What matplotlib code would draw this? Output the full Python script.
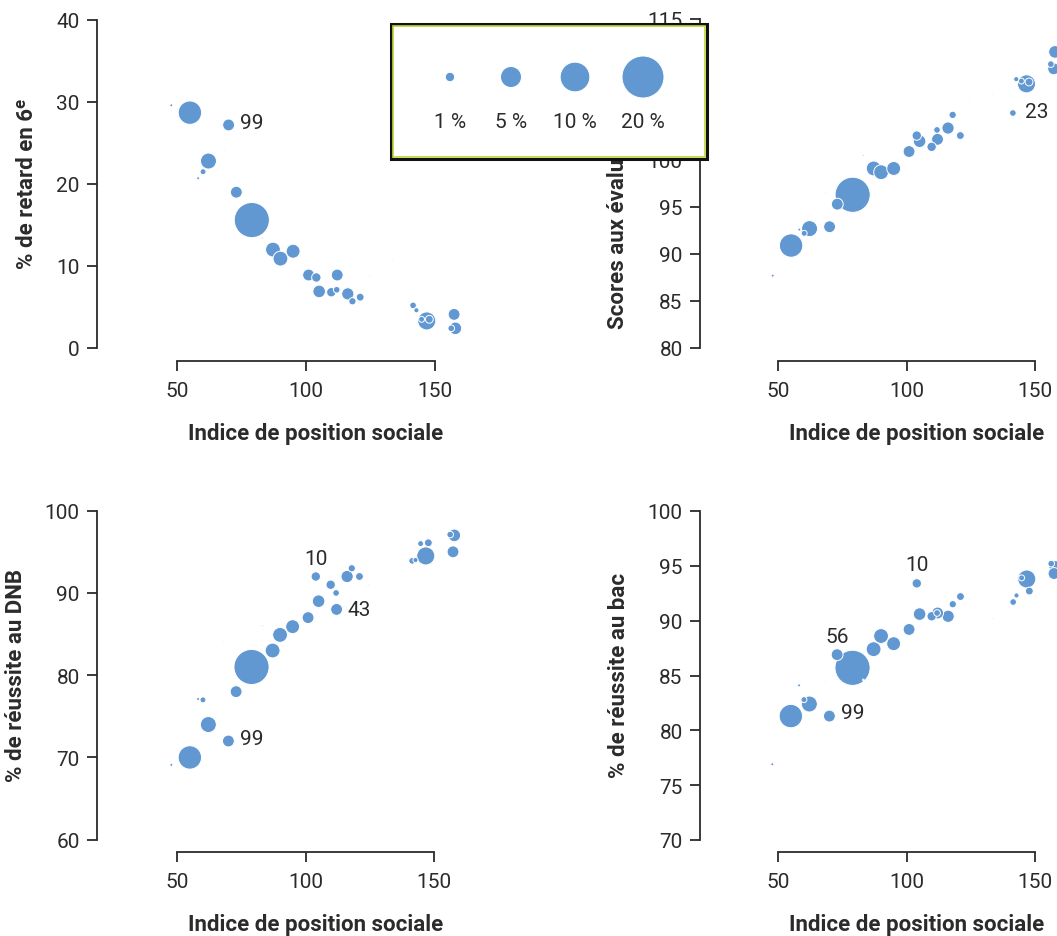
import matplotlib
matplotlib.use("Agg")
import matplotlib.pyplot as plt
from matplotlib.patches import Rectangle

# --- data (one entry per bubble) ----------------------------------------------
ips = [47.8, 55.0, 58.2, 60.1, 62.2, 68.1, 70.0, 73.0, 79.0, 83.2,
       87.2, 90.1, 95.0, 101.0, 104.0, 105.1, 109.8, 111.9, 112.1, 116.2,
       118.0, 121.0, 124.6, 133.8, 141.5, 142.8, 144.8, 146.8, 147.8, 156.3,
       157.4, 157.9]
pct_eleves = [0.1, 6.2, 0.1, 0.4, 2.9, 0.02, 1.6, 1.6, 14.0, 0.03,
              2.5, 2.5, 2.2, 1.6, 1.0, 1.8, 1.0, 0.5, 1.6, 1.7,
              0.6, 0.7, 0.02, 0.02, 0.5, 0.3, 0.4, 3.7, 0.7, 0.5,
              1.6, 1.8]
retard_6e = [29.6, 28.7, 20.7, 21.5, 22.8, 24.0, 27.2, 19.0, 15.6, 13.4,
             12.0, 10.9, 11.8, 8.9, 8.6, 6.9, 6.8, 7.1, 8.9, 6.6,
             5.7, 6.2, 8.8, 10.6, 5.2, 4.6, 3.5, 3.3, 3.5, 2.4,
             4.1, 2.4]
scores_eval = [87.7, 90.9, 92.6, 92.2, 92.7, 96.5, 92.9, 95.3, 96.3, 100.5,
               99.1, 98.7, 99.1, 100.9, 102.6, 102.0, 101.4, 103.2, 102.2, 103.4,
               104.8, 102.6, 106.5, 107.0, 105.0, 108.6, 108.4, 108.1, 108.3, 110.2,
               109.7, 111.5]
reussite_dnb = [69.1, 70.0, 77.1, 77.0, 74.0, 84.0, 72.0, 78.0, 81.0, 86.0,
                83.0, 84.9, 85.9, 87.0, 92.0, 89.0, 91.0, 90.0, 88.0, 92.0,
                93.0, 92.0, 91.0, 96.0, 93.9, 94.0, 96.0, 94.5, 96.1, 97.1,
                95.0, 97.0]
reussite_bac = [76.9, 81.3, 84.1, 82.8, 82.4, 84.5, 81.3, 86.9, 85.7, 84.6,
                87.4, 88.6, 87.9, 89.2, 93.4, 90.6, 90.4, 90.7, 90.7, 90.4,
                91.5, 92.2, 92.0, 90.2, 91.7, 92.3, 93.9, 93.8, 92.7, 95.2,
                94.3, 94.9]

legend_pct = [1, 5, 10, 20]

# labelled bubbles: (index, text)
labels_retard = [(6, "99")]
labels_scores = [(24, "23")]
labels_dnb = [(6, "99"), (14, "10"), (18, "43")]
labels_bac = [(6, "99"), (14, "10"), (7, "56")]

BLUE = "#6298d2"
INK = "#2b2b2b"
W, H = 1057, 937
S_PER_PCT = 45.7          # marker area (pt^2) per % of pupils

plt.rcParams["font.family"] = ["Roboto", "DejaVu Sans"]
plt.rcParams["font.size"] = 15

fig = plt.figure(figsize=(W / 100, H / 100), dpi=100)


def make_axes(x50, x150, spine_x, ylo_px, yhi_px, ylo, yhi, spine_y, right_px, top_px):
    # all positions in pixels from the top-left corner of the image
    ax = fig.add_axes([spine_x / W, 1 - spine_y / H,
                       (right_px - spine_x) / W, (spine_y - top_px) / H])
    sx = 100 / (x150 - x50)
    ax.set_xlim(50 + (spine_x - x50) * sx, 50 + (right_px - x50) * sx)
    sy = (yhi - ylo) / (ylo_px - yhi_px)
    ax.set_ylim(ylo - (spine_y - ylo_px) * sy, yhi + (yhi_px - top_px) * sy)
    ax.patch.set_visible(False)
    for s in ("top", "right"):
        ax.spines[s].set_visible(False)
    ax.spines["left"].set_bounds(ylo, yhi)
    ax.spines["bottom"].set_bounds(50, 150)
    for s in ("left", "bottom"):
        ax.spines[s].set_linewidth(1.3)
        ax.spines[s].set_color(INK)
    ax.set_xticks([50, 100, 150])
    ax.tick_params(length=7.5, width=1.3, color=INK, labelcolor=INK, labelsize=15)
    ax.tick_params(axis="x", pad=7)
    ax.tick_params(axis="y", pad=5)
    return ax


def bubbles(ax, yvals, labels, offsets):
    order = sorted(range(len(ips)), key=lambda i: -pct_eleves[i])
    ax.scatter([ips[i] for i in order], [yvals[i] for i in order],
               s=[pct_eleves[i] * S_PER_PCT for i in order],
               color=BLUE, edgecolor="white", linewidth=0.7, zorder=3, clip_on=False)
    for (i, txt), (dx, dy, ha) in zip(labels, offsets):
        ax.annotate(txt, (ips[i], yvals[i]), xytext=(dx, dy), textcoords="offset points",
                    ha=ha, va="center", fontsize=15, color=INK)


def labels(ax, ytext):
    ax.set_xlabel("Indice de position sociale", fontweight="bold", fontsize=16,
                  color=INK, labelpad=16)
    ax.set_ylabel(ytext, fontweight="bold", fontsize=16, color=INK, labelpad=13)


# top-left: retard en 6e
ax1 = make_axes(177, 435, 97, 349, 21, 0, 40, 362, 535, 6)
ax1.set_yticks([0, 10, 20, 30, 40])
bubbles(ax1, retard_6e, labels_retard, [(8, 2, "left")])
labels(ax1, "% de retard en 6ᵉ")

# top-right: scores aux evaluations (label largely hidden by the legend box)
ax2 = make_axes(778.3, 1034.7, 700, 349, 20, 80, 115, 362, 1133, 6)
ax2.set_yticks([80, 85, 90, 95, 100, 105, 110, 115])
bubbles(ax2, scores_eval, labels_scores, [(9, 1, "left")])
labels(ax2, "Scores aux évaluations en 6ᵉ")

# bottom-left: DNB
ax3 = make_axes(177, 434, 97, 840.7, 511.7, 60, 100, 853, 535, 497)
ax3.set_yticks([60, 70, 80, 90, 100])
bubbles(ax3, reussite_dnb, labels_dnb,
        [(8, 2, "left"), (0, 13, "center"), (8, 0, "left")])
labels(ax3, "% de réussite au DNB")

# bottom-right: bac
ax4 = make_axes(778, 1035, 700, 841, 512, 70, 100, 853, 1133, 497)
ax4.set_yticks([70, 75, 80, 85, 90, 95, 100])
bubbles(ax4, reussite_bac, labels_bac,
        [(8.5, 2.5, "left"), (0, 13.4, "center"), (0, 13, "center")])
labels(ax4, "% de réussite au bac")

# size legend drawn on top of everything, in pixel coordinates
lg = fig.add_axes([0, 0, 1, 1], zorder=10)
lg.set_xlim(0, W)
lg.set_ylim(H, 0)
lg.axis("off")
lg.add_patch(Rectangle((391, 25), 316, 135, facecolor="white", edgecolor="#111111", linewidth=2.2))
lg.add_patch(Rectangle((393, 27), 312, 131, facecolor="none", edgecolor="#bfd33a", linewidth=1.2))
leg_x = [450, 511, 575, 643]
lg.scatter(leg_x, [78] * 4, s=[p * S_PER_PCT for p in legend_pct],
           color=BLUE, edgecolor="white", linewidth=0.7, zorder=3)
for x, p in zip(leg_x, legend_pct):
    lg.text(x, 122, f"{p} %", ha="center", va="center", fontsize=15, color=INK)

fig.savefig("out.png", dpi=100)
